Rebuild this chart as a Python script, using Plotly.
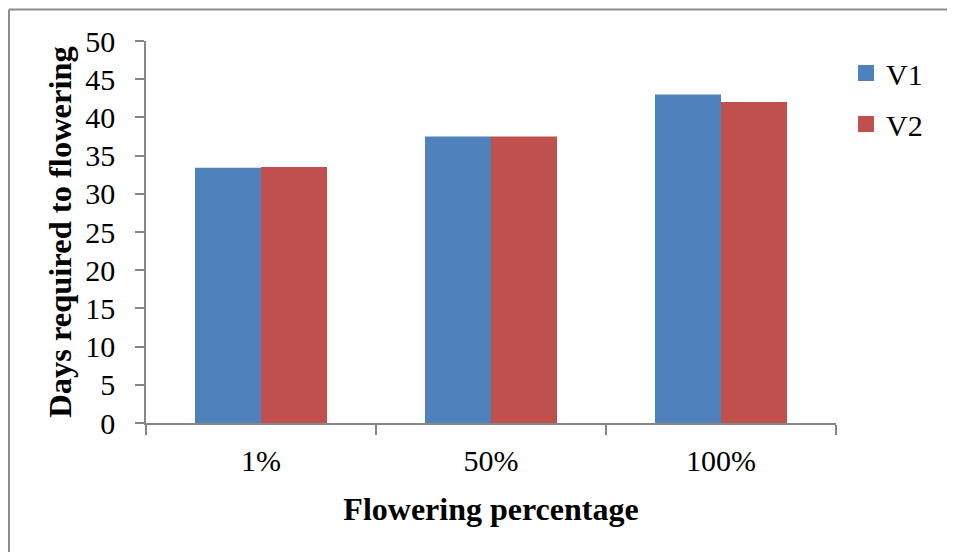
import plotly.graph_objects as go

categories = ["1%", "50%", "100%"]
v1_values = [33.4, 37.5, 43.0]
v2_values = [33.5, 37.5, 42.0]
y_ticks = [0, 5, 10, 15, 20, 25, 30, 35, 40, 45, 50]

# page body has an 8px margin, so the figure is offset by (8, 8) in the window
OFF = 8
W, H = 955 - OFF, 552 - OFF
L, T = 146 - OFF, 41 - OFF
R = W - (836 - OFF)
B = H - (423 - OFF)
pw, ph = W - L - R, H - T - B

def px(x):
    return (x - OFF - L) / pw

def py(y):
    return (H - B - (y - OFF)) / ph

font_family = "Liberation Serif, Times New Roman, serif"
c1, c2 = "#4F81BD", "#C0504D"

fig = go.Figure()
fig.add_trace(go.Bar(name="V1", x=categories, y=v1_values, marker_color=c1,
                     marker_line_width=0, showlegend=False))
fig.add_trace(go.Bar(name="V2", x=categories, y=v2_values, marker_color=c2,
                     marker_line_width=0, showlegend=False))
# legend entries (square swatches)
fig.add_trace(go.Scatter(name="V1", x=[None], y=[None], mode="markers",
                         marker=dict(symbol="square", size=16, color=c1), legend="legend"))
fig.add_trace(go.Scatter(name="V2", x=[None], y=[None], mode="markers",
                         marker=dict(symbol="square", size=16, color=c2), legend="legend2"))

leg_common = dict(xanchor="left", yanchor="middle", itemsizing="trace",
                  font=dict(size=30, family=font_family, color="black"),
                  bgcolor="rgba(0,0,0,0)", borderwidth=0)

fig.update_layout(
    width=W, height=H,
    margin=dict(l=L, r=R, t=T, b=B, autoexpand=False),
    paper_bgcolor="white", plot_bgcolor="white",
    barmode="group", bargap=0.426, bargroupgap=0,
    font=dict(family=font_family, color="black", size=30),
    showlegend=True,
    legend=dict(x=px(846), y=py(73), **leg_common),
    legend2=dict(x=px(846), y=py(124), **leg_common),
    xaxis=dict(
        showline=True, linecolor="#868686", linewidth=1.5,
        ticks="outside", ticklen=10, tickcolor="#868686", tickwidth=1.5,
        tickson="boundaries", tickfont=dict(size=30, family=font_family),
        ticklabelstandoff=10,
        title=dict(text="<b>Flowering percentage</b>", font=dict(size=32, family=font_family),
                   standoff=22),
        showgrid=False, zeroline=False,
    ),
    yaxis=dict(
        range=[0, 50], tickvals=y_ticks, showline=True, linecolor="#868686", linewidth=1.5,
        ticks="outside", ticklen=9, tickcolor="#868686", tickwidth=1.5,
        tickfont=dict(size=30, family=font_family), ticklabelstandoff=14,
        title=dict(text="<b>Days required to flowering</b>", font=dict(size=32.5, family=font_family),
                   standoff=4),
        showgrid=False, zeroline=False,
    ),
)

# outer chart border (left and top edges visible)
border = dict(type="line", xref="paper", yref="paper", line=dict(color="#8C8C8C", width=2))
fig.add_shape(**border, x0=px(9), y0=py(9.5), x1=px(9), y1=py(560))
fig.add_shape(**border, x0=px(9), y0=py(9.5), x1=px(960), y1=py(9.5))

fig.write_html("out.html")
